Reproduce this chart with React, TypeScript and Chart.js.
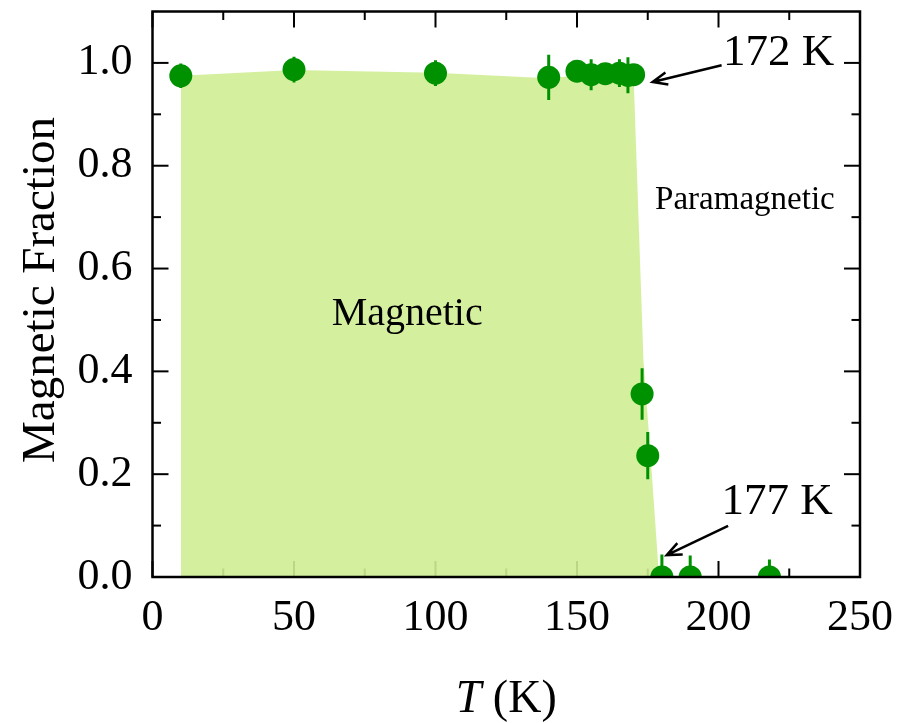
import { useEffect, useRef } from "react";
import { Chart, registerables } from "chart.js";

Chart.register(...registerables);

// Measured magnetic fraction versus temperature
const temperatures = [10, 50, 100, 140, 150, 155, 160, 165, 168, 170, 173, 175, 180, 190, 218];
const fractions = [0.975, 0.987, 0.98, 0.972, 0.984, 0.977, 0.979, 0.98, 0.976, 0.977, 0.356, 0.236, 0, 0, 0];
const fractionErrors = [0.024, 0.025, 0.025, 0.044, 0.015, 0.03, 0.02, 0.027, 0.035, 0.015, 0.05, 0.046, 0.044, 0.042, 0.034];

// Outline of the shaded magnetic region
const shadeT = [10, 50, 100, 140, 150, 170, 173.5, 176, 179];
const shadeF = [0.975, 0.986, 0.981, 0.97, 0.975, 0.975, 0.42, 0.236, 0];

// Axis ticks
const xMajorTicks = [0, 50, 100, 150, 200, 250];
const xMinorTicks = [25, 75, 125, 175, 225];
const yMajorTicks = [0, 0.2, 0.4, 0.6, 0.8, 1.0];
const yMinorTicks = [0.1, 0.3, 0.5, 0.7, 0.9];

// Text labels and arrows (data coordinates)
const regionLabels = [
  { text: "Magnetic", t: 63.3, f: 0.49, size: 40 },
  { text: "Paramagnetic", t: 177.6, f: 0.716, size: 33 },
  { text: "172 K", t: 201.6, f: 0.996, size: 45 },
  { text: "177 K", t: 201.1, f: 0.122, size: 45 },
];
const arrows = [
  { fromT: 201.1, fromF: 0.9955, toT: 176.7, toF: 0.963 },
  { fromT: 203.4, fromF: 0.0994, toT: 181.7, toF: 0.0426 },
];

const SERIF = "'Liberation Serif', 'Times New Roman', serif";
const GREEN = "rgb(0,145,0)";

const decorations = {
  id: "decorations",
  beforeDatasetsDraw(chart: any) {
    const { ctx, chartArea: a, scales } = chart;
    const xs = scales.x;
    const ys = scales.y;
    ctx.save();
    ctx.strokeStyle = "#000";
    ctx.lineWidth = 2;
    const line = (x1: number, y1: number, x2: number, y2: number) => {
      ctx.beginPath();
      ctx.moveTo(x1, y1);
      ctx.lineTo(x2, y2);
      ctx.stroke();
    };
    const xTicks = (vals: number[], len: number) => {
      for (const v of vals) {
        const px = xs.getPixelForValue(v);
        line(px, a.bottom, px, a.bottom - len);
        line(px, a.top, px, a.top + len);
      }
    };
    const yTicks = (vals: number[], len: number) => {
      for (const v of vals) {
        const py = ys.getPixelForValue(v);
        line(a.left, py, a.left + len, py);
        line(a.right, py, a.right - len, py);
      }
    };
    xTicks(xMajorTicks, 16);
    xTicks(xMinorTicks, 8.5);
    yTicks(yMajorTicks, 16);
    yTicks(yMinorTicks, 8.5);
    ctx.restore();
  },
  afterDatasetDraw(chart: any, args: any) {
    if (args.index !== 1) return;
    const { ctx, chartArea: a, scales } = chart;
    ctx.save();
    ctx.beginPath();
    ctx.rect(a.left, a.top, a.right - a.left, a.bottom - a.top);
    ctx.clip();
    ctx.strokeStyle = GREEN;
    ctx.lineWidth = 3;
    temperatures.forEach((t, i) => {
      const px = scales.x.getPixelForValue(t);
      const y1 = scales.y.getPixelForValue(fractions[i] - fractionErrors[i]);
      const y2 = scales.y.getPixelForValue(fractions[i] + fractionErrors[i]);
      ctx.beginPath();
      ctx.moveTo(px, y1);
      ctx.lineTo(px, y2);
      ctx.stroke();
    });
    ctx.restore();
  },
  afterDatasetsDraw(chart: any) {
    const { ctx, chartArea: a } = chart;
    ctx.save();
    ctx.strokeStyle = "#000";
    ctx.lineWidth = 2.5;
    ctx.strokeRect(a.left, a.top, a.right - a.left, a.bottom - a.top);
    ctx.restore();
  },
  afterDraw(chart: any) {
    const { ctx, scales } = chart;
    const xs = scales.x;
    const ys = scales.y;
    ctx.save();
    ctx.fillStyle = "#000";
    ctx.textBaseline = "alphabetic";
    ctx.textAlign = "left";
    for (const l of regionLabels) {
      ctx.font = `${l.size}px ${SERIF}`;
      ctx.fillText(l.text, xs.getPixelForValue(l.t), ys.getPixelForValue(l.f));
    }
    ctx.strokeStyle = "#000";
    ctx.lineWidth = 2.5;
    for (const ar of arrows) {
      const x1 = xs.getPixelForValue(ar.fromT);
      const y1 = ys.getPixelForValue(ar.fromF);
      const x2 = xs.getPixelForValue(ar.toT);
      const y2 = ys.getPixelForValue(ar.toF);
      const ang = Math.atan2(y1 - y2, x1 - x2);
      const head = 16;
      const spread = (23 * Math.PI) / 180;
      ctx.beginPath();
      ctx.moveTo(x1, y1);
      ctx.lineTo(x2, y2);
      ctx.moveTo(x2 + head * Math.cos(ang - spread), y2 + head * Math.sin(ang - spread));
      ctx.lineTo(x2, y2);
      ctx.lineTo(x2 + head * Math.cos(ang + spread), y2 + head * Math.sin(ang + spread));
      ctx.stroke();
    }

    // y-axis title
    ctx.save();
    ctx.translate(54, 290);
    ctx.rotate(-Math.PI / 2);
    ctx.textAlign = "center";
    ctx.font = `47px ${SERIF}`;
    ctx.fillText("Magnetic Fraction", 0, 0);
    ctx.restore();

    // x-axis title: italic T followed by the unit
    const italic = `italic 46px ${SERIF}`;
    const upright = `46px ${SERIF}`;
    ctx.font = italic;
    const wT = ctx.measureText("T").width;
    ctx.font = upright;
    const wK = ctx.measureText(" (K)").width;
    const cx = (chart.chartArea.left + chart.chartArea.right) / 2;
    const start = cx - (wT + wK) / 2;
    ctx.textAlign = "left";
    ctx.font = italic;
    ctx.fillText("T", start, 711.7);
    ctx.font = upright;
    ctx.fillText(" (K)", start + wT, 711.7);
    ctx.restore();
  },
};

export default function App() {
  const ref = useRef<HTMLCanvasElement>(null);

  useEffect(() => {
    const canvas = ref.current;
    if (!canvas) return;
    const chart = new Chart(canvas, {
      type: "line",
      data: {
        datasets: [
          {
            label: "Magnetic fraction",
            data: temperatures.map((t, i) => ({ x: t, y: fractions[i] })),
            showLine: false,
            pointRadius: 11.5,
            pointHoverRadius: 11.5,
            pointBackgroundColor: GREEN,
            pointBorderWidth: 0,
            pointBorderColor: GREEN,
            clip: 0,
          },
          {
            label: "Magnetic region",
            data: shadeT.map((t, i) => ({ x: t, y: shadeF[i] })),
            fill: "origin",
            backgroundColor: "rgba(207,238,149,0.9)",
            borderColor: "transparent",
            borderWidth: 0,
            pointRadius: 0,
            tension: 0,
          },
        ],
      },
      options: {
        responsive: false,
        animation: false,
        devicePixelRatio: 1,
        layout: { padding: { left: 0, top: 8.3, right: 59, bottom: 0 } },
        plugins: {
          legend: { display: false },
          tooltip: { enabled: false },
        },
        events: [],
        scales: {
          x: {
            type: "linear",
            min: 0,
            max: 250,
            grid: { display: false, drawTicks: false },
            border: { display: false },
            ticks: {
              stepSize: 50,
              autoSkip: false,
              maxRotation: 0,
              padding: 15,
              color: "#000",
              font: { family: SERIF, size: 44 },
            },
            afterFit(axis: any) {
              axis.height = 146;
              axis.paddingLeft = 0;
              axis.paddingRight = 0;
            },
          },
          y: {
            type: "linear",
            min: 0,
            max: 1.1,
            grid: { display: false, drawTicks: false },
            border: { display: false },
            ticks: {
              stepSize: 0.2,
              includeBounds: false,
              padding: 20,
              color: "#000",
              font: { family: SERIF, size: 44 },
              callback: (v: any) => Number(v).toFixed(1),
            },
            afterFit(axis: any) {
              axis.width = 152.5;
              axis.paddingTop = 0;
              axis.paddingBottom = 0;
            },
          },
        },
      },
      plugins: [decorations],
    } as any);
    return () => chart.destroy();
  }, []);

  return (
    <div style={{ position: "fixed", left: 0, top: 0, width: 919, height: 723, background: "#fff" }}>
      <canvas ref={ref} width={919} height={723} style={{ display: "block" }} />
    </div>
  );
}
